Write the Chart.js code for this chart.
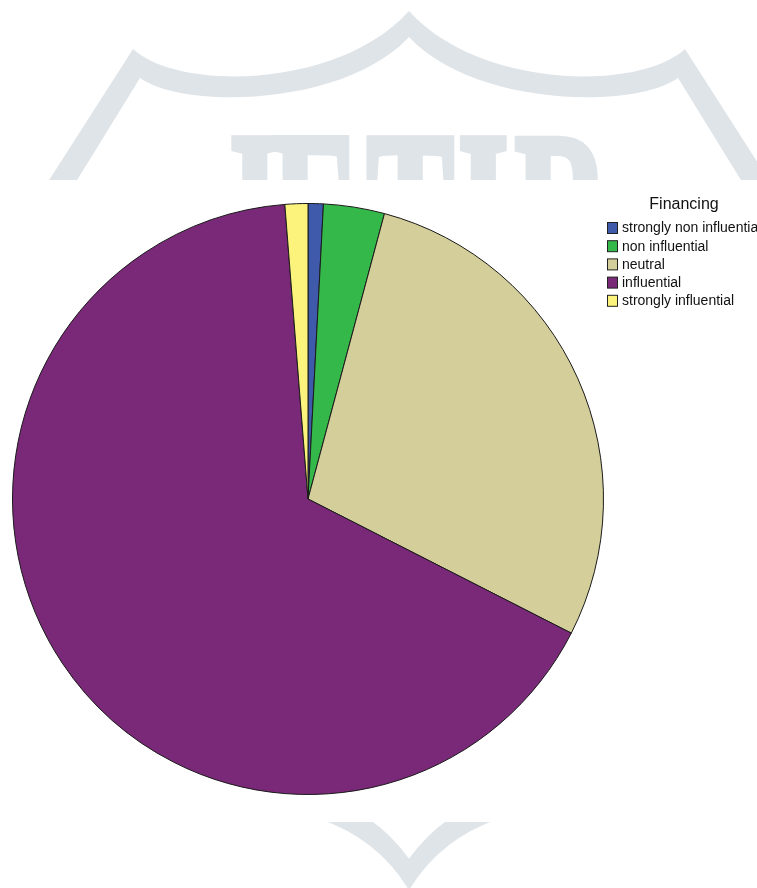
<!DOCTYPE html>
<html>
<head>
<meta charset="utf-8">
<script src="https://cdn.jsdelivr.net/npm/chart.js@4.4.1/dist/chart.umd.min.js"></script>
<style>
  html, body { margin: 0; padding: 0; background: #fff; }
  #financeChart { display: block; }
</style>
</head>
<body>
<canvas id="financeChart" width="757" height="888"></canvas>
<script>
const legendTitle = 'Financing';
const categories = ['strongly non influential', 'non influential', 'neutral', 'influential', 'strongly influential'];
const counts = [2, 8, 68, 159, 3];
const sliceColors = ['#3f5aab', '#35b84a', '#d4cf9a', '#7a2878', '#fbf37c'];

const WM = '#dfe4e8';

// journal watermark behind the figure, then the white panel the pie sits on
const backdrop = {
    id: 'backdrop',
    beforeDraw(chart) {
        const ctx = chart.ctx;
        ctx.save();
        ctx.fillStyle = '#fff';
        ctx.fillRect(0, 0, chart.width, chart.height);
        ctx.fillStyle = WM;

        // top arch, left half then mirrored
        const archHalf = () => {
            ctx.beginPath();
            ctx.moveTo(46, 185);
            ctx.lineTo(133, 49);
            ctx.bezierCurveTo(180, 92, 340, 88, 409, 11);
            ctx.lineTo(409, 37);
            ctx.bezierCurveTo(345, 106, 185, 110, 140, 78);
            ctx.lineTo(74, 185);
            ctx.closePath();
            ctx.fill();
        };
        // chevron below the figure, left half then mirrored
        const chevronHalf = () => {
            ctx.beginPath();
            ctx.moveTo(320, 819);
            ctx.quadraticCurveTo(380, 840, 410, 892);
            ctx.lineTo(410, 860);
            ctx.quadraticCurveTo(392, 835, 369, 819);
            ctx.closePath();
            ctx.fill();
        };
        archHalf();
        chevronHalf();
        ctx.save();
        ctx.translate(818, 0);
        ctx.scale(-1, 1);
        archHalf();
        chevronHalf();
        ctx.restore();

        // tall heavy serif lettering, each glyph placed by its left edge
        ctx.font = 'bold 130px "Liberation Serif"';
        ctx.textBaseline = 'alphabetic';
        ctx.strokeStyle = WM;
        ctx.lineWidth = 5;
        ctx.lineJoin = 'miter';
        const letters = ['J', 'E', 'T', 'I', 'R'];
        const lefts = [218, 274, 369, 462, 517];
        ctx.save();
        ctx.translate(0, 139);
        ctx.scale(1, 1.7);
        letters.forEach((ch, i) => {
            const m = ctx.measureText(ch);
            const x = lefts[i] + m.actualBoundingBoxLeft;
            ctx.fillText(ch, x, m.actualBoundingBoxAscent);
            ctx.strokeText(ch, x, m.actualBoundingBoxAscent);
        });
        ctx.restore();

        ctx.fillStyle = '#fff';
        ctx.fillRect(0, 180, chart.width, 642);
        ctx.restore();
    }
};

// legend block at the upper right
const sideLegend = {
    id: 'sideLegend',
    afterDraw(chart) {
        const ctx = chart.ctx;
        const ds = chart.data.datasets[0];
        ctx.save();
        ctx.fillStyle = '#111';
        ctx.textBaseline = 'middle';
        ctx.textAlign = 'center';
        ctx.font = '16px "Liberation Sans", Arial, sans-serif';
        ctx.fillText(legendTitle, 684, 205);
        ctx.textAlign = 'left';
        ctx.font = '14px "Liberation Sans", Arial, sans-serif';
        chart.data.labels.forEach((label, i) => {
            const y = 228 + i * 18.2;
            ctx.fillStyle = ds.backgroundColor[i];
            ctx.fillRect(607.5, y - 5.5, 10, 11);
            ctx.strokeStyle = '#222';
            ctx.lineWidth = 1;
            ctx.strokeRect(607.5, y - 5.5, 10, 11);
            ctx.fillStyle = '#111';
            ctx.fillText(label, 622, y + 0.5);
        });
        ctx.restore();
    }
};

new Chart(document.getElementById('financeChart'), {
    type: 'pie',
    data: {
        labels: categories,
        datasets: [{
            data: counts,
            backgroundColor: sliceColors,
            borderColor: '#1a1a1a',
            borderWidth: 1
        }]
    },
    options: {
        responsive: false,
        animation: false,
        layout: { padding: { left: 12, top: 203, right: 153, bottom: 93 } },
        plugins: {
            legend: { display: false },
            tooltip: { enabled: false }
        }
    },
    plugins: [backdrop, sideLegend]
});
</script>
</body>
</html>
